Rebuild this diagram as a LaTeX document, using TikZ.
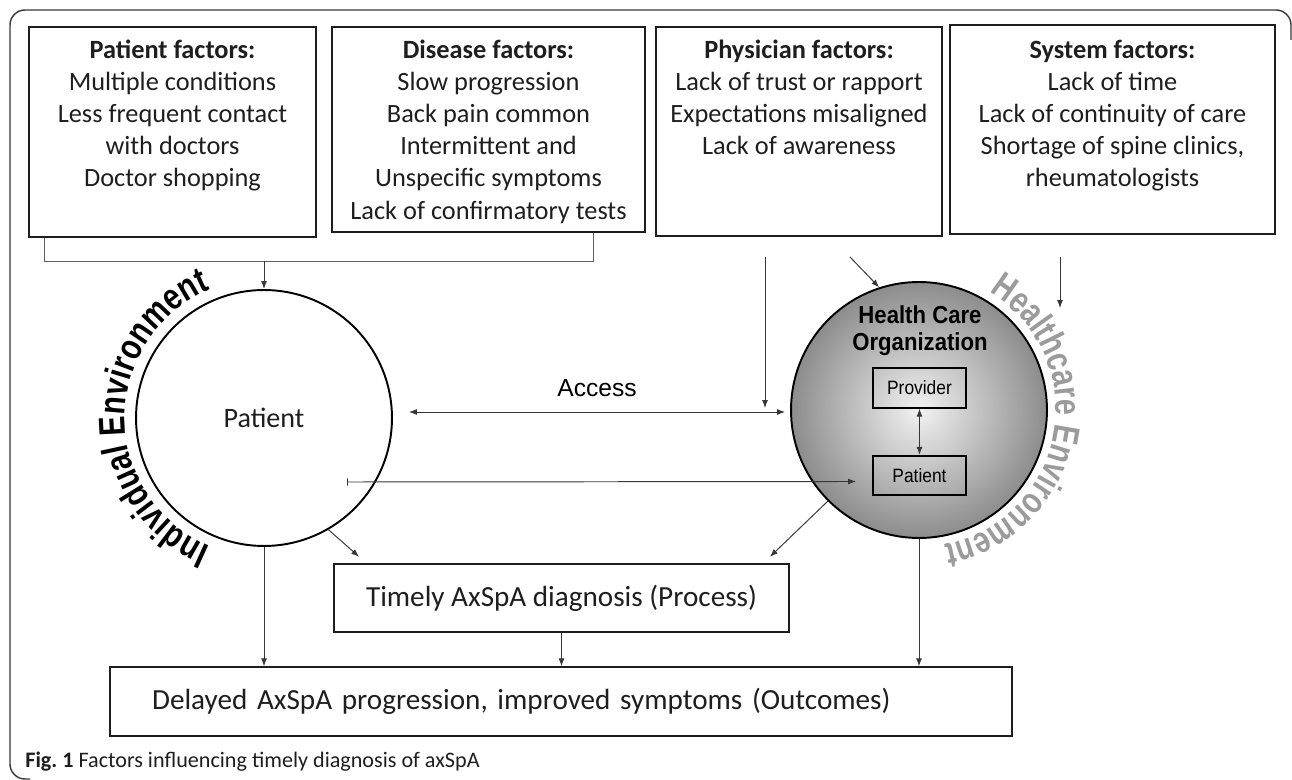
\documentclass[tikz,border=0pt]{standalone}
\usepackage{fontspec}
\setmainfont{Carlito}
\newfontfamily\arialfont{Liberation Sans}
\newfontfamily\condfont[FakeStretch=0.9]{Liberation Sans}
\newfontfamily\indivfont[FakeStretch=0.8]{Liberation Sans}
\newfontfamily\hcenvfont[FakeStretch=0.78]{Liberation Sans}
\usetikzlibrary{positioning, calc, arrows.meta, decorations.text}
\frenchspacing

\definecolor{linegray}{RGB}{55,55,55}
\definecolor{hcgray}{RGB}{155,155,155}
\definecolor{txtblack}{RGB}{30,30,30}

\newcommand{\indivstyle}{\indivfont\bfseries\fontsize{21}{24}\selectfont}
\newcommand{\hcenvstyle}{\hcenvfont\bfseries\fontsize{21}{24}\selectfont}

\tikzset{
  factbox/.style={draw=txtblack, line width=0.7pt, inner sep=0pt},
  facttext/.style={align=center, inner sep=0pt, text=txtblack, font=\fontsize{15}{18.3}\selectfont},
  procbox/.style={draw=txtblack, line width=1.1pt, inner sep=0pt, minimum height=1.37cm, text=txtblack, font=\fontsize{16.6}{20}\selectfont},
  smallbox/.style={draw=black, line width=1.1pt, inner sep=0pt, minimum width=1.86cm, minimum height=0.79cm, font=\condfont\fontsize{11}{13}\selectfont},
  arr/.style={-{Latex[length=4.5pt,width=3.4pt]}, draw=linegray, line width=0.55pt},
  dblarr/.style={{Latex[length=4.5pt,width=3.4pt]}-{Latex[length=4.5pt,width=3.4pt]}, draw=linegray, line width=0.55pt},
  bararr/.style={{Bar[width=4pt]}-{Latex[length=4.5pt,width=3.4pt]}, draw=linegray, line width=0.55pt},
  conn/.style={draw=linegray!80, line width=0.55pt},
  frame/.style={draw=linegray, line width=0.8pt, rounded corners=0.3cm}
}

\begin{document}
\begin{tikzpicture}[x=0.02cm, y=-0.02cm]
    \useasboundingbox (0,0) rectangle (1292,780);

    % Outer frame
    \draw[frame] (1291,40) -- (1291,10) -- (10,10) -- (10,779) -- (30,779);

    % Factor boxes
    \node[factbox, minimum width=5.74cm, minimum height=4.2cm] (patfac) at (172.5,132) {};
    \node[factbox, minimum width=6.26cm, minimum height=4.1cm] (disfac) at (488.5,129.5) {};
    \node[factbox, minimum width=5.72cm, minimum height=4.18cm] (phyfac) at (799,131.5) {};
    \node[factbox, minimum width=6.5cm, minimum height=4.18cm] (sysfac) at (1112.5,129.5) {};

    % Labels inside the boxes
    \node[facttext, below=0.26cm of patfac.north] (patfactxt) {\textbf{Patient factors:}\\Multiple conditions\\Less frequent contact\\with doctors\\Doctor shopping};
    \node[facttext, below=0.26cm of disfac.north] (disfactxt) {\textbf{Disease factors:}\\Slow progression\\Back pain common\\Intermittent and\\Unspecific symptoms\\Lack of confirmatory tests};
    \node[facttext, below=0.26cm of phyfac.north] (phyfactxt) {\textbf{Physician factors:}\\Lack of trust or rapport\\Expectations misaligned\\Lack of awareness};
    \node[facttext, below=0.3cm of sysfac.north] (sysfactxt) {\textbf{System factors:}\\Lack of time\\Lack of continuity of care\\Shortage of spine clinics,\\rheumatologists};

    % Patient circle
    \node[circle, draw=black, line width=1.1pt, fill=white, minimum size=5.12cm, inner sep=0pt, text=txtblack, font=\fontsize{16}{19}\selectfont] (patient) at (264,418) {Patient};

    % Health care organization circle
    \node[circle, draw=black, line width=1.1pt, minimum size=5.12cm, inner sep=0pt, inner color=gray!10, outer color=black!45] (hco) at (919,410) {};
    \node[align=center, inner sep=0pt, font=\condfont\bfseries\fontsize{14}{15.3}\selectfont] (hcotitle) at (920,331) {Health Care\\Organization};
    \node[smallbox] (provider) at (919.5,388) {Provider};
    \node[smallbox] (hcpatient) at (919.5,475.5) {Patient};
    \draw[dblarr] (provider) -- (hcpatient);

    % Bracket from patient and disease factors
    \coordinate (brL) at (44,261);
    \coordinate (brR) at (593,261);
    \draw[conn] (brL |- patfac.south) -- (brL) -- (brR) -- (brR |- disfac.south);
    \draw[arr] (brL -| patient.north) -- (patient.north);

    % Physician and system arrows
    \coordinate (phyA) at (765,257);
    \coordinate (phyB) at (765,408);
    \coordinate (phyC) at (850,257);
    \coordinate (sysA) at (1060,257);
    \coordinate (sysB) at (1060,308);
    \draw[arr] (phyA) -- (phyB);
    \draw[arr] (phyC) -- (hco.108);
    \draw[arr] (sysA) -- (sysB);

    % Access and patient arrows
    \draw[dblarr] ($(patient.east)+(16,-6)$) -- ($(hco.west)+(-5,2)$) node[midway, above=0.3cm, inner sep=0pt, font=\arialfont\fontsize{14}{16}\selectfont] (access) {Access};
    \draw[bararr] ($(patient.center)+(83,64)$) -- ($(hcpatient.west)+(-16,6)$);

    % Process and outcome boxes
    \node[procbox, minimum width=9.1cm] (process) at (561.5,598) {Timely AxSpA diagnosis (Process)};
    \node[procbox, text width=16.36cm, inner xsep=0.84cm, align=left] (outcome) at (561,701.5) {Delayed AxSpA progression, improved symptoms (Outcomes)};

    \draw[arr] (patient.-60) -- ($(process.north west)+(26,-6)$);
    \draw[arr] (hco.-135) -- ($(process.north east)+(-20,-6)$);
    \draw[arr] (patient.south) -- (patient.south |- outcome.north);
    \draw[arr] (process.south) -- (process.south |- outcome.north);
    \draw[arr] (hco.south) -- (hco.south |- outcome.north);

    % Curved environment labels
    \begin{scope}[shift={(patient.center)}, x=0.02cm, y=0.02cm]
      \path[decorate, decoration={text along path, text align=center, text color=black, text={|\indivstyle|Individual Environment}}] (-100:139) arc[start angle=-100, end angle=-260, radius=139];
    \end{scope}
    \begin{scope}[shift={(hco.center)}, x=0.02cm, y=0.02cm]
      \path[decorate, decoration={text along path, text align=center, text color=hcgray, text={|\hcenvstyle|Healthcare Environment}}] (75:137) arc[start angle=75, end angle=-95, radius=137];
    \end{scope}

    % Caption
    \node[anchor=west, inner sep=0pt, text=txtblack, font=\fontsize{12.6}{14}\selectfont] (caption) at (25,762) {\textbf{Fig.\ 1} Factors influencing timely diagnosis of axSpA};
\end{tikzpicture}
\end{document}
